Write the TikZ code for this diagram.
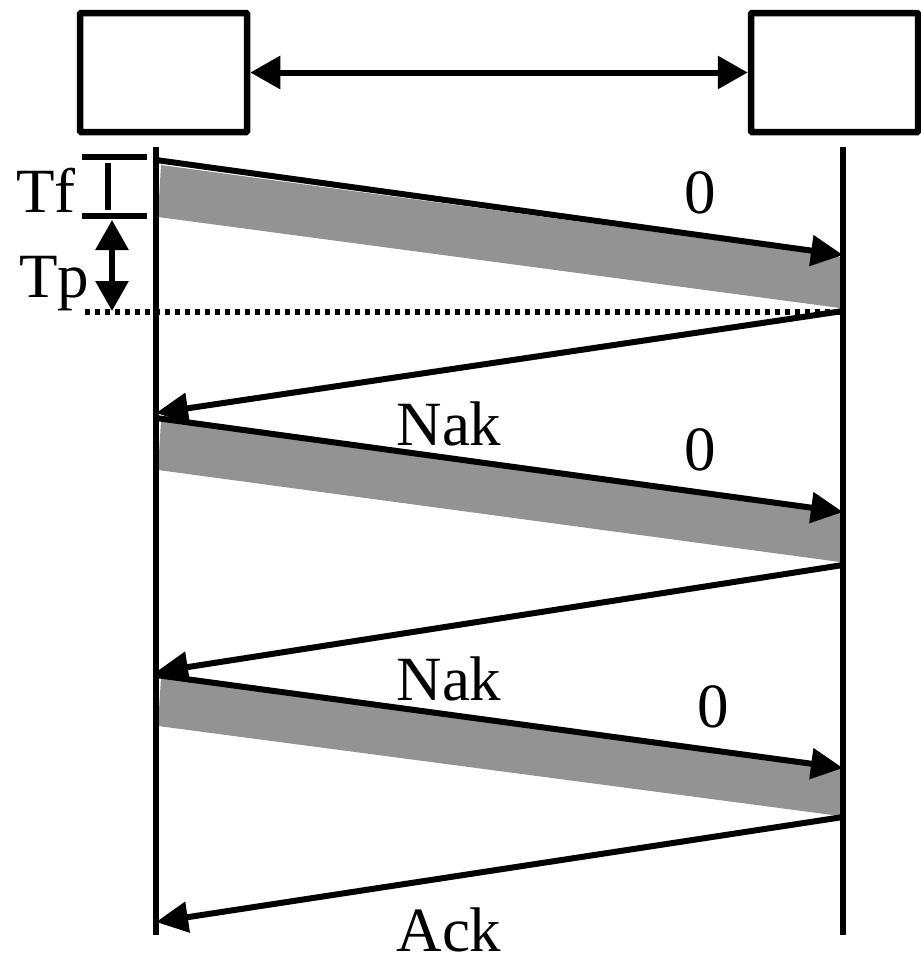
\documentclass[tikz,border=0pt]{standalone}
\usepackage{fontspec}
\setmainfont{Liberation Serif}
\usetikzlibrary{arrows.meta}
\definecolor{framegray}{HTML}{939393}
\tikzset{
  station/.style={draw, line width=6.5pt, minimum width=167pt, minimum height=119pt, inner sep=0pt, rounded corners=1pt},
  lifeline/.style={line width=6pt},
  msg/.style={line width=6pt, -{Triangle[length=32pt,width=30pt]}},
  frame/.style={fill=framegray, draw=none},
  lbl/.style={font=\fontsize{63}{70}\selectfont, inner sep=0pt, anchor=base, text depth=0pt},
  tick/.style={line width=6pt},
  dim/.style={line width=6pt, {Triangle[length=30pt,width=32pt]}-{Triangle[length=30pt,width=32pt]}},
  dots/.style={line width=6pt, dash pattern=on 5pt off 5pt}
}
\begin{document}
\begin{tikzpicture}[x=1pt,y=-1pt]
\useasboundingbox (0,0) rectangle (921,956);

% the two stations and the link between them
\node[station] (A) at (163.5,72.5) {};
\node[station] (B) at (834.5,72.5) {};
\draw[dim] (A.east) -- (B.west);

% lifelines
\coordinate (A0) at (156,147);
\coordinate (A1) at (156,935);
\coordinate (B0) at (843,147);
\coordinate (B1) at (843,935);

% points where frames leave and arrive
\coordinate (s1) at (156,160);  \coordinate (r1) at (843,255);
\coordinate (n1) at (843,311);  \coordinate (k1) at (156,413);
\coordinate (s2) at (156,418);  \coordinate (r2) at (843,512);
\coordinate (n2) at (843,565);  \coordinate (k2) at (156,672);
\coordinate (s3) at (156,675);  \coordinate (r3) at (843,768);
\coordinate (n3) at (843,817);  \coordinate (k3) at (156,922);

% frame transmission bands
\fill[frame] (161,165) -- (840,257) -- (840,308) -- (158,217) -- cycle;
\fill[frame] (161,421) -- (840,513) -- (840,562) -- (158,470) -- cycle;
\fill[frame] (161,678) -- (840,769) -- (840,816) -- (158,726) -- cycle;

% propagation reference line
\coordinate (d0) at (85,312);
\draw[dots] (d0) -- (843,312);

\draw[lifeline] (A0) -- (A1);
\draw[lifeline] (B0) -- (B1);

% messages
\draw[msg] (s1) -- (r1);
\draw[msg] (n1) -- (k1);
\draw[msg] (s2) -- (r2);
\draw[msg] (n2) -- (k2);
\draw[msg] (s3) -- (r3);
\draw[msg] (n3) -- (k3);

% labels
\node[lbl] (f1) at (700,213) {0};
\node[lbl] (f2) at (700,470) {0};
\node[lbl] (f3) at (713,727) {0};
\node[lbl] (nk1) at (449,445) {Nak};
\node[lbl] (nk2) at (449,700) {Nak};
\node[lbl] (ak) at (449,951) {Ack};

% Tf and Tp markers
\coordinate (tfa) at (82,157);  \coordinate (tfb) at (147,157);
\coordinate (tfc) at (82,216);  \coordinate (tfd) at (147,216);
\draw[tick] (tfa) -- (tfb);
\draw[tick] (tfc) -- (tfd);
\coordinate (tfm0) at (108,163); \coordinate (tfm1) at (108,210);
\draw[tick] (tfm0) -- (tfm1);
\coordinate (tp0) at (112,220); \coordinate (tp1) at (112,311);
\draw[dim] (tp0) -- (tp1);
\node[lbl, anchor=base west] (tf) at (16,212) {Tf};
\node[lbl, anchor=base west, text depth=] (tp) at (19,297) {Tp};
\end{tikzpicture}
\end{document}
